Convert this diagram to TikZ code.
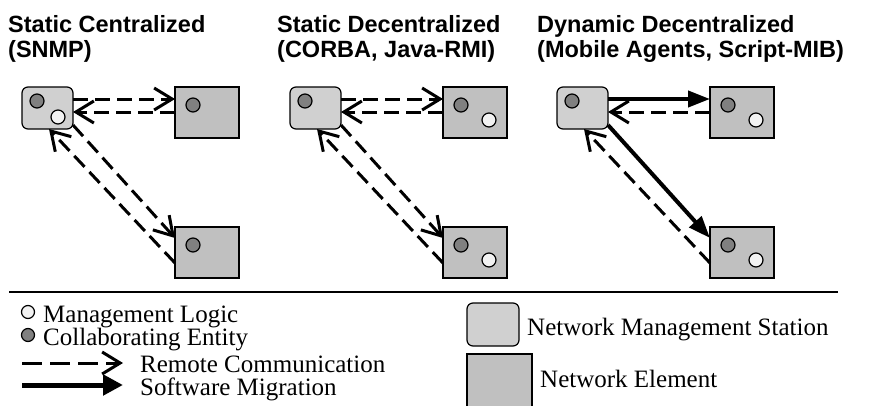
\documentclass[tikz,border=0pt]{standalone}
\usepackage{fontspec}
\setmainfont{Liberation Serif}
\newfontfamily\headfont{Liberation Sans}
\usetikzlibrary{arrows.meta}
\definecolor{nms_gray}{RGB}{208, 208, 208}
\definecolor{ne_gray}{RGB}{192, 192, 192}
\definecolor{ce_gray}{RGB}{128, 128, 128}
\definecolor{ml_white}{RGB}{242, 242, 242}
\tikzstyle{nms}=[rectangle,rounded corners=6pt,fill=nms_gray,draw=black,
  line width=1.2pt,inner sep=0pt,minimum width=51pt,minimum height=42pt]
\tikzstyle{ne}=[rectangle,fill=ne_gray,draw=black,
  line width=1.2pt,inner sep=0pt,minimum width=64pt,minimum height=51pt]
\tikzstyle{ce}=[circle,fill=ce_gray,draw=black,
  line width=1.2pt,inner sep=0pt,minimum size=14pt]
\tikzstyle{ml}=[circle,fill=ml_white,draw=black,
  line width=1.2pt,inner sep=0pt,minimum size=14pt]
\tikzstyle{rc}=[line width=3pt,dash pattern=on 15pt off 7pt,
  -{Straight Barb[length=18pt,width=22pt]}]
\tikzstyle{sm}=[line width=4pt,-{Triangle[length=22pt,width=16pt]}]
\tikzstyle{headline}=[inner sep=0pt,anchor=base west,
  font=\headfont\bfseries\fontsize{23.5}{25}\selectfont]
\tikzstyle{keytext}=[inner sep=0pt,anchor=base west,
  font=\fontsize{25}{27}\selectfont]
\tikzstyle{none}=[]

\begin{document}
\begin{tikzpicture}[x=1pt, y=-1pt]
    \useasboundingbox (0, 0) rectangle (870, 405);
    % titles
    \node [style=headline] (h0) at (8, 32) {Static Centralized};
    \node [style=headline] (h1) at (8, 57) {(SNMP)};
    \node [style=headline] (h2) at (277, 32) {Static Decentralized};
    \node [style=headline] (h3) at (277, 57) {(CORBA, Java-RMI)};
    \node [style=headline] (h4) at (537, 32) {Dynamic Decentralized};
    \node [style=headline] (h5) at (537, 57) {(Mobile Agents, Script-MIB)};
    % static centralized
    \node [style=nms] (0) at (47.5, 108) {};
    \node [style=ne] (1) at (207, 112.5) {};
    \node [style=ne] (2) at (207, 252.5) {};
    \node [style=ce] (3) at (37, 101) {};
    \node [style=ml] (4) at (58, 117) {};
    \node [style=ce] (5) at (193, 105) {};
    \node [style=ce] (6) at (193, 245) {};
    \node [style=none] (7) at (73, 99) {};
    \node [style=none] (8) at (175, 99) {};
    \node [style=none] (9) at (175, 112) {};
    \node [style=none] (10) at (73, 112) {};
    \node [style=none] (11) at (73, 125) {};
    \node [style=none] (12) at (175, 238) {};
    \node [style=none] (13) at (175, 263) {};
    \node [style=none] (14) at (49, 129) {};
    \draw [style=rc] (7.center) to (8.center);
    \draw [style=rc] (9.center) to (10.center);
    \draw [style=rc] (11.center) to (12.center);
    \draw [style=rc] (13.center) to (14.center);
    % static decentralized
    \node [style=nms] (20) at (315.5, 108) {};
    \node [style=ne] (21) at (475, 112.5) {};
    \node [style=ne] (22) at (475, 252.5) {};
    \node [style=ce] (23) at (305, 101) {};
    \node [style=ce] (24) at (461, 105) {};
    \node [style=ml] (25) at (489, 120) {};
    \node [style=ce] (26) at (461, 245) {};
    \node [style=ml] (27) at (489, 260) {};
    \node [style=none] (28) at (341, 99) {};
    \node [style=none] (29) at (443, 99) {};
    \node [style=none] (30) at (443, 112) {};
    \node [style=none] (31) at (341, 112) {};
    \node [style=none] (32) at (341, 125) {};
    \node [style=none] (33) at (443, 238) {};
    \node [style=none] (34) at (443, 263) {};
    \node [style=none] (35) at (317, 129) {};
    \draw [style=rc] (28.center) to (29.center);
    \draw [style=rc] (30.center) to (31.center);
    \draw [style=rc] (32.center) to (33.center);
    \draw [style=rc] (34.center) to (35.center);
    % dynamic decentralized
    \node [style=nms] (40) at (582.5, 108) {};
    \node [style=ne] (41) at (742, 112.5) {};
    \node [style=ne] (42) at (742, 252.5) {};
    \node [style=ce] (43) at (572, 101) {};
    \node [style=ce] (44) at (728, 105) {};
    \node [style=ml] (45) at (756, 120) {};
    \node [style=ce] (46) at (728, 245) {};
    \node [style=ml] (47) at (756, 260) {};
    \node [style=none] (48) at (608, 99) {};
    \node [style=none] (49) at (710, 99) {};
    \node [style=none] (50) at (710, 112) {};
    \node [style=none] (51) at (608, 112) {};
    \node [style=none] (52) at (608, 125) {};
    \node [style=none] (53) at (710, 238) {};
    \node [style=none] (54) at (710, 263) {};
    \node [style=none] (55) at (584, 129) {};
    \draw [style=sm] (48.center) to (49.center);
    \draw [style=rc] (50.center) to (51.center);
    \draw [style=sm] (52.center) to (53.center);
    \draw [style=rc] (54.center) to (55.center);
    % legend
    \node [style=none] (60) at (9, 292) {};
    \node [style=none] (61) at (838, 292) {};
    \draw [line width=1.5pt] (60.center) to (61.center);
    \node [style=ml, minimum size=13pt] (62) at (28, 312) {};
    \node [style=keytext] (63) at (43, 322) {Management Logic};
    \node [style=ce, minimum size=13pt] (64) at (28, 335) {};
    \node [style=keytext] (65) at (43, 345) {Collaborating Entity};
    \node [style=none] (66) at (22, 363) {};
    \node [style=none] (67) at (123, 363) {};
    \draw [style=rc, dash pattern=on 20pt off 8pt] (66.center) to (67.center);
    \node [style=keytext] (68) at (140, 372) {Remote Communication};
    \node [style=none] (69) at (22, 385) {};
    \node [style=none] (70) at (123, 385) {};
    \draw [line width=5pt, -{Triangle[length=20pt,width=20pt]}] (69.center) to (70.center);
    \node [style=keytext] (71) at (140, 395) {Software Migration};
    \node [style=nms, minimum width=52pt, minimum height=43pt] (72) at (493, 324.5) {};
    \node [style=keytext] (73) at (527, 335) {Network Management Station};
    \node [style=ne, minimum width=65pt, minimum height=60pt] (74) at (499.5, 384) {};
    \node [style=keytext] (75) at (540, 387) {Network Element};
\end{tikzpicture}
\end{document}
